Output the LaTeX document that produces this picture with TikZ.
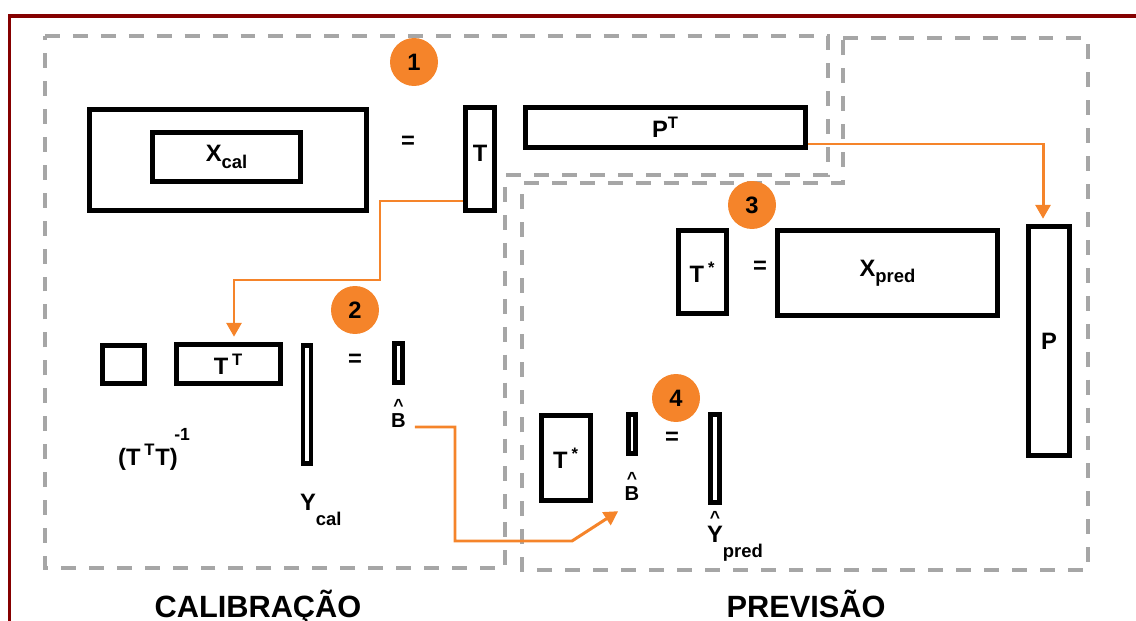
\documentclass[tikz,border=0pt]{standalone}
\usepackage{fontspec}
\setmainfont{Liberation Sans}
\definecolor{plsorange}{HTML}{F5842A}
\definecolor{plsgray}{HTML}{A6A6A6}
\definecolor{plsdarkred}{HTML}{850000}
\usetikzlibrary{arrows.meta}

\newcommand{\plssub}[2][-0.5ex]{\raisebox{#1}{\fontsize{10.5}{12}\selectfont #2}}

\begin{document}
\begin{tikzpicture}[x=0.02cm, y=-0.02cm, font=\bfseries\fontsize{13.5}{16}\selectfont]
        \tikzset{
            plsmatrix/.style={
                draw=black,
                line width=2.8pt,
                inner sep=0pt
            },
            plsregion/.style={
                draw=plsgray,
                line width=2.2pt,
                dash pattern=on 8.5pt off 7.4pt
            },
            plsborder/.style={
                draw=plsdarkred,
                line width=2pt
            },
            plsstep/.style={
                circle,
                fill=plsorange,
                minimum size=0.96cm,
                inner sep=0pt,
                font=\bfseries\fontsize{13.5}{15}\selectfont
            },
            plsequal/.style={
                inner sep=0pt
            },
            plslabel/.style={
                inner sep=1pt
            },
            plshatted/.style={
                plslabel,
                label={[inner sep=0pt, label distance=0pt, font=\bfseries\fontsize{10}{10}\selectfont]above:\textasciicircum}
            },
            plssmall/.style={
                font=\bfseries\fontsize{11.5}{13}\selectfont
            },
            plsflow/.style={
                -{Triangle[length=2.8mm,width=3mm]},
                draw=plsorange,
                line width=1.7pt,
                shorten >=3pt
            },
            plstitle/.style={
                anchor=base,
                font=\bfseries\fontsize{17.5}{20}\selectfont
            }
        }

        \useasboundingbox (0,0) rectangle (1136,621);

        % frame and the two regions
        \draw[plsborder] (1160,16) -| (9.5,650);
        \draw[plsregion] (45,36) -- (828,36) -- (828,175) -- (505,175)
            -- (505,568) -- (45,568) -- cycle;
        \draw[plsregion] (843,38) -- (1088,38) -- (1088,570) -- (522,570)
            -- (522,183) -- (843,183) -- cycle;

        % step 1
        \node[plsmatrix, minimum width=5.54cm, minimum height=2.02cm] (xbig) at (228,160) {};
        \node[plsmatrix, minimum width=2.96cm, minimum height=0.98cm] (xcal) at (226.5,157)
            {X\plssub{cal}};
        \node[plsequal] (eq1) at (408,142) {=};
        \node[plsmatrix, minimum width=0.58cm, minimum height=2.06cm] (tcal) at (480,159)
            {\raisebox{7pt}{T}};
        \node[plsmatrix, minimum width=5.60cm, minimum height=0.80cm] (pt) at (665.5,127.5)
            {P\textsuperscript{T}};
        \node[plsstep] (step1) at (414,62) {1};

        % step 2
        \node[plsmatrix, minimum width=0.84cm, minimum height=0.76cm] (sq) at (123.5,364.5) {};
        \node[plsmatrix, minimum width=2.08cm, minimum height=0.78cm] (tt) at (228.5,364)
            {T\,\textsuperscript{T}};
        \node[plsmatrix, minimum width=0.16cm, minimum height=2.36cm] (ycal) at (307,404.5) {};
        \node[plsequal] (eq2) at (355,360) {=};
        \node[plsmatrix, minimum width=0.16cm, minimum height=0.78cm] (bhat) at (398.5,363) {};
        \node[plslabel, anchor=base west] (invlab) at (116,465)
            {(T\,\textsuperscript{T}T)\kern-2pt\raisebox{14pt}{\fontsize{10}{10}\selectfont -1}};
        \node[plslabel] (ycallab) at (308,510) {Y\rlap{\plssub[-1.2ex]{cal}}};
        \node[plshatted, plssmall] (bhatlab) at (398.5,421) {B};
        \node[plsstep] (step2) at (355,310) {2};

        % step 3
        \node[plsmatrix, minimum width=0.96cm, minimum height=1.66cm] (tstar1) at (702.5,272)
            {T\,\textsuperscript{*}};
        \node[plsequal] (eq3) at (760,267) {=};
        \node[plsmatrix, minimum width=4.40cm, minimum height=1.70cm] (xpred) at (887.5,273)
            {X\plssub{pred}};
        \node[plsmatrix, minimum width=0.82cm, minimum height=4.58cm] (pbox) at (1049,341) {P};
        \node[plsstep] (step3) at (752,205) {3};

        % step 4
        \node[plsmatrix, minimum width=0.98cm, minimum height=1.70cm] (tstar2) at (566,458)
            {T\,\textsuperscript{*}};
        \node[plsmatrix, minimum width=0.14cm, minimum height=0.78cm] (bhat2) at (632,434) {};
        \node[plsequal] (eq4) at (672,438) {=};
        \node[plsmatrix, minimum width=0.18cm, minimum height=1.76cm] (ypred) at (715,458.5) {};
        \node[plshatted, plssmall] (bhat2lab) at (632,494) {B};
        \node[plshatted] (ypredlab) at (715,544) {Y\rlap{\plssub[-1.2ex]{pred}}};
        \node[plsstep] (step4) at (676,398) {4};

        % flows
        \draw[plsflow] (tcal.west |- 0,201) -| (380,280) -| (tt.north -| 234,0);
        \draw[plsflow] (pt.east |- 0,144) -| (pbox.north -| 1043,0);
        \draw[plsflow, shorten <=4pt] (bhatlab.east |- 0,427) -- (455,427) |- (572,541)
            -- ([yshift=-3pt]bhat2lab.south west);

        % titles
        \node[plstitle] (calibtitle) at (258,617) {CALIBRAÇÃO};
        \node[plstitle] (prevtitle) at (806,617) {PREVISÃO};
    \end{tikzpicture}
\end{document}
